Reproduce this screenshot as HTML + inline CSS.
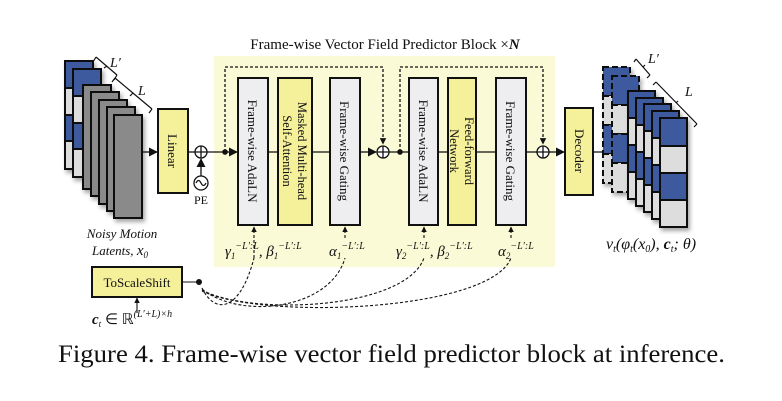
<!DOCTYPE html>
<html><head><meta charset="utf-8"><style>
html,body{margin:0;padding:0;background:#fff;}
svg{display:block;}
text{font-family:"Liberation Serif",serif;fill:#111;}
</style></head><body>
<svg width="782" height="401" viewBox="0 0 782 401" xmlns="http://www.w3.org/2000/svg">
<defs>
<marker id="ar" viewBox="0 0 10 10" refX="9" refY="5" markerWidth="7" markerHeight="7" orient="auto"><path d="M0,0 L10,5 L0,10 z" fill="#111"/></marker>
<marker id="ars" viewBox="0 0 10 10" refX="9" refY="5" markerWidth="5" markerHeight="5" orient="auto"><path d="M0,0 L10,5 L0,10 z" fill="#111"/></marker>
<filter id="sh" x="-30%" y="-30%" width="160%" height="160%"><feDropShadow dx="2" dy="3" stdDeviation="2" flood-opacity="0.35"/></filter>
</defs>
<rect width="782" height="401" fill="#fff"/>
<text x="385" y="49" font-size="15" text-anchor="middle">Frame-wise Vector Field Predictor Block ×<tspan font-weight="bold" font-style="italic">N</tspan></text>
<rect x="214" y="56" width="341" height="211" fill="#fafad6"/>

<g stroke="#111" stroke-width="2" filter="url(#sh)">
<g><rect x="65" y="61" width="28" height="27" fill="#3d5a9e"/><rect x="65" y="88" width="28" height="27" fill="#ddd"/><rect x="65" y="115" width="28" height="26" fill="#3d5a9e"/><rect x="65" y="141" width="28" height="28" fill="#ddd"/></g>
<g><rect x="73" y="69" width="28" height="27" fill="#3d5a9e"/><rect x="73" y="96" width="28" height="27" fill="#ddd"/><rect x="73" y="123" width="28" height="26" fill="#3d5a9e"/><rect x="73" y="149" width="28" height="28" fill="#ddd"/></g>
<rect x="83" y="85" width="28" height="104" fill="#8a8a8a"/>
<rect x="91" y="92" width="28" height="104" fill="#8a8a8a"/>
<rect x="99" y="100" width="28" height="104" fill="#8a8a8a"/>
<rect x="107" y="107" width="28" height="104" fill="#8a8a8a"/>
<rect x="114" y="115" width="28" height="103" fill="#8a8a8a"/>
</g>
<path d="M96,57 l-3,5 M96,57 L117,75 M117,75 l-3,5 M107,66 l-3,2" stroke="#111" stroke-width="1.2" fill="none"/>
<path d="M115,78 l-3,4 M115,78 L152,109 M152,109 l-3,4 M133,93 l-3,3" stroke="#111" stroke-width="1.2" fill="none"/>
<text x="110" y="67" font-size="14" font-style="italic">L′</text>
<text x="138" y="95" font-size="14" font-style="italic">L</text>
<text x="122" y="238" font-size="13" font-style="italic" text-anchor="middle">Noisy Motion</text>
<text x="120" y="255" font-size="13" font-style="italic" text-anchor="middle">Latents, <tspan font-size="15">x</tspan><tspan font-size="9" dy="3">0</tspan></text>

<g stroke="#111" stroke-width="1.3" fill="none">
<line x1="142" y1="152" x2="157" y2="152" marker-end="url(#ar)"/>
<line x1="188" y1="152" x2="195" y2="152"/>
<line x1="207" y1="152" x2="237" y2="152" marker-end="url(#ar)"/>
<line x1="268" y1="152" x2="278" y2="152"/>
<line x1="312" y1="152" x2="330" y2="152"/>
<line x1="360" y1="152" x2="376" y2="152" marker-end="url(#ar)"/>
<line x1="389" y1="152" x2="409" y2="152"/>
<line x1="438" y1="152" x2="448" y2="152"/>
<line x1="476" y1="152" x2="496" y2="152"/>
<line x1="526" y1="152" x2="537" y2="152"/>
<line x1="549" y1="152" x2="564" y2="152" marker-end="url(#ar)"/>
<line x1="593" y1="152" x2="628" y2="152"/>
<line x1="201" y1="176" x2="201" y2="159" marker-end="url(#ar)"/>
<path d="M225,152 V67 H383 V144" stroke-dasharray="3,2" marker-end="url(#ars)"/>
<path d="M400,152 V67 H543 V144" stroke-dasharray="3,2" marker-end="url(#ars)"/>
</g>
<circle cx="225" cy="152" r="2.8" fill="#111"/>
<circle cx="400" cy="152" r="2.8" fill="#111"/>
<g stroke="#111" stroke-width="1.3" fill="#fff">
<circle cx="201" cy="152" r="6"/><path d="M195,152h12M201,146v12"/>
<circle cx="383" cy="152" r="6"/><path d="M377,152h12M383,146v12"/>
<circle cx="543" cy="152" r="6"/><path d="M537,152h12M543,146v12"/>
<circle cx="201" cy="183" r="7"/>
<path d="M196,183 q2.5,-5 5,0 t5,0" fill="none"/>
</g>
<text x="201" y="204" font-size="12" text-anchor="middle">PE</text>

<g stroke="#111" stroke-width="2">
<rect x="158" y="109" width="30" height="84" fill="#f5f09a"/>
<rect x="238" y="78" width="30" height="147" fill="#eeeef0"/>
<rect x="278" y="78" width="34" height="147" fill="#f5f09a"/>
<rect x="330" y="78" width="30" height="147" fill="#eeeef0"/>
<rect x="409" y="78" width="29" height="147" fill="#eeeef0"/>
<rect x="448" y="78" width="28" height="147" fill="#f5f09a"/>
<rect x="496" y="78" width="30" height="147" fill="#eeeef0"/>
<rect x="565" y="108" width="28" height="87" fill="#f5f09a"/>
<rect x="92" y="267" width="90" height="30" fill="#f5f09a"/>
</g>
<g font-size="13">
<text transform="translate(168,151) rotate(90)" text-anchor="middle">Linear</text>
<text transform="translate(248,151) rotate(90)" text-anchor="middle">Frame-wise AdaLN</text>
<text transform="translate(291,151) rotate(90)" text-anchor="middle" font-size="12.5"><tspan x="0" dy="-7">Masked Multi-head</tspan><tspan x="0" dy="15">Self-Attention</tspan></text>
<text transform="translate(340,151) rotate(90)" text-anchor="middle">Frame-wise Gating</text>
<text transform="translate(419,151) rotate(90)" text-anchor="middle">Frame-wise AdaLN</text>
<text transform="translate(460,151) rotate(90)" text-anchor="middle" font-size="12.5"><tspan x="0" dy="-5">Feed-forward</tspan><tspan x="0" dy="15">Network</tspan></text>
<text transform="translate(506,151) rotate(90)" text-anchor="middle">Frame-wise Gating</text>
<text transform="translate(575,151) rotate(90)" text-anchor="middle">Decoder</text>
<text x="137" y="287" text-anchor="middle">ToScaleShift</text>
</g>

<g font-size="15" font-style="italic">
<text x="225" y="256">γ<tspan font-size="9" dy="3">1</tspan><tspan font-size="10" dy="-10">−L′:L</tspan><tspan dy="7">, β</tspan><tspan font-size="9" dy="3">1</tspan><tspan font-size="10" dy="-10">−L′:L</tspan></text>
<text x="329" y="256">α<tspan font-size="9" dy="3">1</tspan><tspan font-size="10" dy="-10">−L′:L</tspan></text>
<text x="396" y="256">γ<tspan font-size="9" dy="3">2</tspan><tspan font-size="10" dy="-10">−L′:L</tspan><tspan dy="7">, β</tspan><tspan font-size="9" dy="3">2</tspan><tspan font-size="10" dy="-10">−L′:L</tspan></text>
<text x="498" y="256">α<tspan font-size="9" dy="3">2</tspan><tspan font-size="10" dy="-10">−L′:L</tspan></text>
</g>

<g stroke="#111" stroke-width="1.1" fill="none">
<line x1="182" y1="282" x2="199" y2="282"/>
<line x1="137" y1="313" x2="137" y2="298" marker-end="url(#ars)"/>
<g stroke-dasharray="3,2">
<path d="M254,258 V238"/><path d="M254,238 V227" marker-end="url(#ars)"/>
<path d="M345,238 V227" marker-end="url(#ars)"/>
<path d="M424,238 V227" marker-end="url(#ars)"/>
<path d="M511,238 V227" marker-end="url(#ars)"/>
<path d="M202,288 C215,315 240,312 254,258"/>
<path d="M202,289 C240,320 330,310 345,258"/>
<path d="M202,290 C250,316 405,310 424,258"/>
<path d="M202,291 C260,320 490,312 511,258"/>
</g>
</g>
<circle cx="199" cy="282" r="3" fill="#111"/>
<text x="92" y="324" font-size="15"><tspan font-weight="bold" font-style="italic">c</tspan><tspan font-size="9" dy="3" font-style="italic">t</tspan><tspan dy="-3"> ∈ ℝ</tspan><tspan font-size="10" dy="-7" font-style="italic">(L′+L)×h</tspan></text>

<g stroke="#111" stroke-width="2" stroke-dasharray="6,3" filter="url(#sh)">
<g><rect x="603" y="67" width="27" height="29" fill="#3d5a9e"/><rect x="603" y="96" width="27" height="29" fill="#ddd"/><rect x="603" y="125" width="27" height="29" fill="#3d5a9e"/><rect x="603" y="154" width="27" height="29" fill="#ddd"/></g>
<g><rect x="612" y="76" width="27" height="29" fill="#3d5a9e"/><rect x="612" y="105" width="27" height="29" fill="#ddd"/><rect x="612" y="134" width="27" height="29" fill="#3d5a9e"/><rect x="612" y="163" width="27" height="29" fill="#ddd"/></g>
</g>
<g stroke="#111" stroke-width="2" filter="url(#sh)">
<g><rect x="628" y="91" width="27" height="27" fill="#3d5a9e"/><rect x="628" y="118" width="27" height="27" fill="#ddd"/><rect x="628" y="145" width="27" height="27" fill="#3d5a9e"/><rect x="628" y="172" width="27" height="27" fill="#ddd"/></g>
<g><rect x="636" y="98" width="27" height="27" fill="#3d5a9e"/><rect x="636" y="125" width="27" height="27" fill="#ddd"/><rect x="636" y="152" width="27" height="27" fill="#3d5a9e"/><rect x="636" y="179" width="27" height="27" fill="#ddd"/></g>
<g><rect x="644" y="104" width="27" height="27" fill="#3d5a9e"/><rect x="644" y="131" width="27" height="27" fill="#ddd"/><rect x="644" y="158" width="27" height="27" fill="#3d5a9e"/><rect x="644" y="185" width="27" height="27" fill="#ddd"/></g>
<g><rect x="652" y="111" width="27" height="27" fill="#3d5a9e"/><rect x="652" y="138" width="27" height="27" fill="#ddd"/><rect x="652" y="165" width="27" height="27" fill="#3d5a9e"/><rect x="652" y="192" width="27" height="27" fill="#ddd"/></g>
<g><rect x="660" y="118" width="27" height="28" fill="#3d5a9e"/><rect x="660" y="146" width="27" height="27" fill="#ddd"/><rect x="660" y="173" width="27" height="27" fill="#3d5a9e"/><rect x="660" y="200" width="27" height="27" fill="#ddd"/></g>
</g>
<path d="M636,59 l-2,3 M636,59 L650,75 M650,75 l-3,3 M643,67 l2,-2" stroke="#111" stroke-width="1.2" fill="none"/>
<path d="M656,82 l-3,3 M656,82 L697,124 M697,124 l-3,3 M676,103 l2,-2" stroke="#111" stroke-width="1.2" fill="none"/>
<text x="648" y="63" font-size="14" font-style="italic">L′</text>
<text x="685" y="96" font-size="14" font-style="italic">L</text>
<text x="606" y="249" font-size="16" font-style="italic">v<tspan font-size="10" dy="3">t</tspan><tspan dy="-3">(φ</tspan><tspan font-size="10" dy="3">t</tspan><tspan dy="-3">(x</tspan><tspan font-size="10" dy="3">0</tspan><tspan dy="-3">), </tspan><tspan font-weight="bold">c</tspan><tspan font-size="10" dy="3">t</tspan><tspan dy="-3">; θ)</tspan></text>

<text x="58" y="362" font-size="25" textLength="667" lengthAdjust="spacingAndGlyphs">Figure 4. Frame-wise vector field predictor block at inference.</text>
</svg>
</body></html>
